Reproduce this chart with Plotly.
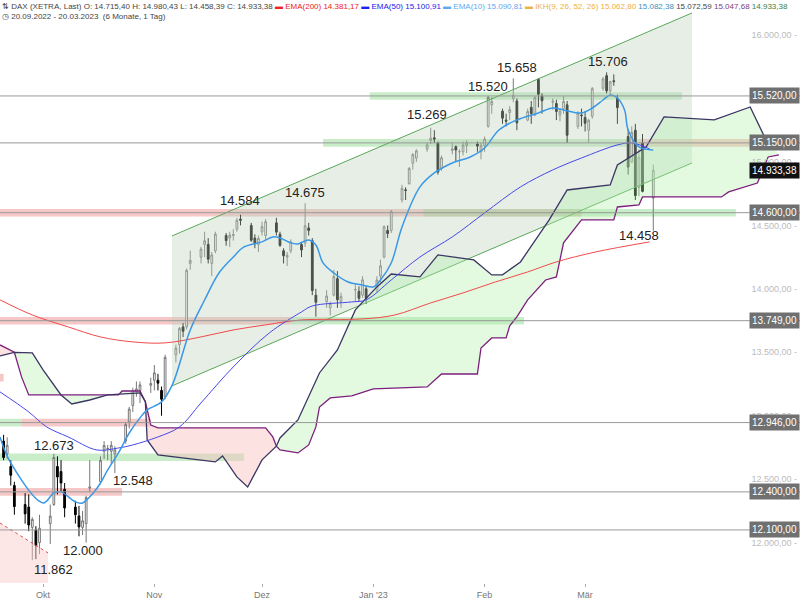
import pandas as pd
import plotly.graph_objects as go

# ---- candles (daily, XETRA) ----
dates = pd.bdate_range("2022-09-20", "2023-03-20")
dates = dates[dates != pd.Timestamp("2022-12-26")]

opens = [12800, 12700, 12600, 12450, 12300, 12280, 12120, 12100, 12000,
         12150, 12300, 12600, 12560, 12420, 12280, 12210, 12120, 12150, 12430,
         12480, 12720, 12740, 12720, 12700, 12800, 12950, 13080, 13190, 13200,
         13240, 13280, 13280, 13200, 13150, 13480, 13560, 13700, 13700, 14200,
         14250, 14350, 14350, 14200, 14300, 14420, 14400, 14420, 14470, 14550,
         14500, 14400, 14350, 14450, 14420, 14520, 14430, 14300, 14250, 14300,
         14350, 14360, 14480, 14380, 13950, 13900, 13850, 13950, 14080, 13900,
         13990, 13980, 13950, 14000, 13990, 14100, 14250, 14460, 14460, 14700,
         14780, 14830, 14990, 15030, 15100, 15170, 15190, 15150, 14950, 15090,
         15120, 15080, 15080, 15130, 15140, 15080, 15130, 15280, 15450, 15400,
         15330, 15390, 15500, 15480, 15330, 15430, 15370, 15650, 15520, 15470,
         15460, 15370, 15420, 15450, 15280, 15370, 15350, 15250, 15360, 15580,
         15680, 15560, 15640, 15500, 15200, 15000, 15250, 14800, 15150, 14715]
highs = [12850, 12830, 12650, 12480, 12390, 12380, 12200, 12130, 12220,
         12300, 12700, 12680, 12650, 12470, 12330, 12290, 12250, 12370, 12650,
         12680, 12800, 12770, 12800, 12760, 12950, 13070, 13220, 13270, 13270,
         13300, 13400, 13330, 13230, 13480, 13560, 13700, 13730, 14160, 14300,
         14330, 14450, 14400, 14290, 14450, 14440, 14450, 14470, 14560, 14584,
         14520, 14430, 14420, 14530, 14550, 14560, 14450, 14320, 14290, 14390,
         14370, 14675, 14520, 14400, 14000, 13990, 13900, 14150, 14140, 13970,
         14040, 14020, 14100, 14020, 14100, 14230, 14500, 14500, 14620, 14820,
         14800, 14960, 15070, 15100, 15150, 15269, 15250, 15160, 15050, 15150,
         15130, 15100, 15160, 15170, 15160, 15150, 15200, 15520, 15510, 15420,
         15380, 15440, 15658, 15500, 15420, 15480, 15520, 15660, 15540, 15500,
         15490, 15420, 15520, 15480, 15400, 15420, 15400, 15340, 15590, 15670,
         15706, 15640, 15690, 15530, 15260, 15280, 15300, 15100, 15220, 14980]
lows = [12650, 12660, 12450, 12220, 12150, 12090, 11862, 11870, 11910,
        11990, 12290, 12380, 12400, 12200, 12150, 12050, 12060, 12000, 12400,
        12460, 12660, 12650, 12620, 12548, 12780, 12900, 13030, 13150, 13100,
        13180, 13200, 13200, 13000, 13130, 13420, 13490, 13620, 13680, 14150,
        14200, 14250, 14200, 14100, 14280, 14340, 14330, 14380, 14450, 14500,
        14370, 14320, 14290, 14420, 14380, 14420, 14330, 14200, 14180, 14280,
        14250, 14330, 14420, 13950, 13780, 13850, 13790, 13940, 13850, 13850,
        13900, 13900, 13930, 13880, 13970, 14050, 14240, 14400, 14440, 14680,
        14700, 14820, 14940, 15000, 15080, 15140, 15150, 14900, 14930, 15060,
        15000, 14960, 15050, 15070, 15080, 15020, 15080, 15270, 15380, 15300,
        15280, 15330, 15470, 15250, 15320, 15300, 15360, 15430, 15380, 15410,
        15330, 15320, 15380, 15150, 15260, 15280, 15240, 15150, 15340, 15560,
        15540, 15520, 15600, 15300, 14900, 14990, 14700, 14730, 14760, 14458]
closes = [12671, 12767, 12531, 12284, 12227, 12139, 12183, 11976, 12114,
          12209, 12671, 12517, 12470, 12273, 12220, 12124, 12172, 12355, 12438,
          12649, 12765, 12742, 12767, 12731, 12931, 13052, 13196, 13211, 13243,
          13254, 13338, 13257, 13130, 13460, 13533, 13688, 13666, 14146, 14224,
          14313, 14379, 14234, 14267, 14431, 14380, 14423, 14428, 14540, 14541,
          14383, 14355, 14397, 14490, 14529, 14447, 14343, 14261, 14264, 14371,
          14306, 14497, 14460, 13986, 13894, 13943, 13885, 14098, 13914, 13941,
          13995, 13926, 14071, 13924, 14069, 14181, 14490, 14436, 14610, 14792,
          14775, 14948, 15058, 15087, 15134, 15187, 15181, 14920, 15033, 15103,
          15094, 15081, 15132, 15150, 15126, 15128, 15180, 15509, 15476, 15345,
          15321, 15412, 15524, 15308, 15398, 15381, 15507, 15534, 15482, 15478,
          15398, 15400, 15476, 15210, 15382, 15365, 15305, 15328, 15578, 15654,
          15560, 15632, 15633, 15428, 14959, 15233, 14735, 15037, 14768, 14933]

# ---- indicators ----
ema200_dates = ["2022-09-19", "2022-09-28", "2022-10-08", "2022-10-17", "2022-10-26", "2022-11-04",
                "2022-11-14", "2022-11-23", "2022-12-02", "2022-12-12", "2022-12-29", "2023-01-07",
                "2023-01-17", "2023-01-26", "2023-02-04", "2023-02-13", "2023-02-21", "2023-03-04",
                "2023-03-19"]
ema200 = [13913, 13794, 13700, 13621, 13582, 13574, 13621, 13676, 13716, 13755, 13763, 13794,
          13889, 13968, 14054, 14133, 14212, 14291, 14370]

ema50_dates = ["2022-09-19", "2022-09-27", "2022-10-02", "2022-10-08", "2022-10-16", "2022-10-22",
               "2022-10-26", "2022-11-02", "2022-11-08", "2022-11-14", "2022-11-23", "2022-12-03",
               "2022-12-12", "2022-12-15", "2022-12-26", "2022-12-30", "2023-01-06", "2023-01-14",
               "2023-01-23", "2023-02-01", "2023-02-11", "2023-02-20", "2023-02-28", "2023-03-10",
               "2023-03-14", "2023-03-19"]
ema50 = [13188, 13030, 12912, 12833, 12730, 12746, 12770, 12833, 12912, 13101, 13385, 13652,
         13818, 13865, 13897, 13913, 14070, 14251, 14409, 14598, 14803, 14937, 15031, 15134,
         15150, 15102]

ema10_dates = ["2022-09-19", "2022-09-22", "2022-10-01", "2022-10-04", "2022-10-06", "2022-10-10",
               "2022-10-12", "2022-10-15", "2022-10-17", "2022-10-19", "2022-10-22", "2022-10-25",
               "2022-10-28", "2022-10-30", "2022-11-03", "2022-11-06", "2022-11-11", "2022-11-15",
               "2022-11-19", "2022-11-23", "2022-11-26", "2022-12-01", "2022-12-04", "2022-12-06",
               "2022-12-09", "2022-12-11", "2022-12-14", "2022-12-16", "2022-12-18", "2022-12-21",
               "2022-12-25", "2022-12-29", "2023-01-01", "2023-01-03", "2023-01-06", "2023-01-09",
               "2023-01-14", "2023-01-18", "2023-01-23", "2023-01-28", "2023-02-01", "2023-02-05",
               "2023-02-10", "2023-02-16", "2023-02-20", "2023-02-23", "2023-02-28", "2023-03-03",
               "2023-03-06", "2023-03-08", "2023-03-10", "2023-03-12", "2023-03-13", "2023-03-16",
               "2023-03-20"]
ema10 = [12833, 12628, 12313, 12392, 12400, 12321, 12313, 12392, 12470, 12573, 12707, 12864,
         12983, 13046, 13109, 13243, 13676, 13912, 14125, 14251, 14330, 14370, 14409, 14401,
         14362, 14354, 14385, 14346, 14204, 14125, 14054, 14031, 14015, 14070, 14204, 14488,
         14803, 14913, 14992, 15039, 15110, 15252, 15331, 15386, 15425, 15410, 15386, 15425,
         15488, 15528, 15504, 15410, 15252, 15118, 15094]

span_a_dates = ["2022-09-19", "2022-09-23", "2022-09-28", "2022-10-01", "2022-10-06", "2022-10-09",
                "2022-10-14", "2022-10-19", "2022-10-28", "2022-10-29 12:00", "2022-10-30",
                "2022-11-02", "2022-11-18", "2022-11-20", "2022-11-24", "2022-11-27", "2022-12-01",
                "2022-12-05", "2022-12-06", "2022-12-11", "2022-12-17", "2022-12-22", "2022-12-27",
                "2023-01-02", "2023-01-06", "2023-01-14", "2023-01-19", "2023-01-29", "2023-02-03",
                "2023-02-06", "2023-02-11", "2023-02-19", "2023-02-24", "2023-03-08", "2023-03-10",
                "2023-03-18", "2023-03-23", "2023-04-06", "2023-04-16", "2023-04-20"]
span_a = [13471, 13500, 13495, 13361, 13164, 13093, 13124, 13164, 13180, 13110, 12809,
          12691, 12636, 12683, 12518, 12439, 12652, 12760, 12825, 12967, 13337, 13518, 13834,
          14015, 14117, 14094, 14267, 14228, 14110, 14110, 14212, 14543, 14779, 14819, 14976,
          15118, 15355, 15331, 15433, 15197]

span_b_dates = ["2022-09-19", "2022-09-23", "2022-09-25", "2022-09-27", "2022-10-22", "2022-10-23",
                "2022-10-28", "2022-10-29 12:00", "2022-10-31", "2022-11-02", "2022-12-02",
                "2022-12-04", "2022-12-05", "2022-12-06", "2022-12-11", "2022-12-14", "2022-12-16",
                "2022-12-17", "2022-12-20", "2022-12-26", "2023-01-01", "2023-01-16", "2023-01-20",
                "2023-01-30", "2023-01-31", "2023-02-03", "2023-02-07", "2023-02-08", "2023-02-10",
                "2023-02-13", "2023-02-18", "2023-02-21", "2023-02-23", "2023-02-28", "2023-03-09",
                "2023-03-10", "2023-03-16", "2023-03-17", "2023-04-08", "2023-04-10", "2023-04-18",
                "2023-04-21", "2023-04-24"]
span_b = [13558, 13500, 13306, 13164, 13164, 13195, 13195, 13110, 12927, 12904, 12904,
          12833, 12760, 12730, 12707, 12770, 12912, 13069, 13140, 13156, 13211, 13227, 13329,
          13329, 13534, 13613, 13613, 13708, 13779, 13913, 14070, 14094, 14362, 14543, 14543,
          14645, 14661, 14724, 14724, 14764, 14834, 15039, 15055]

# cloud segments: (start, end, bullish?)
cloud_segments = [("2022-09-19", "2022-09-23", False), ("2022-09-23", "2022-10-29 12:00", True),
                  ("2022-10-29 12:00", "2022-12-05", False), ("2022-12-05", "2023-04-24", True)]

# support / resistance levels
levels = [15520, 15150, 14600, 13749, 12946, 12400, 12100]
last_price = 14933.38

# zones: (price, from, to, kind)
zones = [(15520, "2022-12-31", "2023-03-28", "g"),
         (15150, "2022-12-18", "2023-03-16", "g"), (15150, "2023-03-16", "2023-04-17", "r"),
         (14600, "2022-09-19", "2023-02-28", "r"), (14600, "2023-01-15", "2023-04-12", "g"),
         (13749, "2022-09-19", "2022-12-09", "r"), (13749, "2022-12-09", "2023-02-12", "g"),
         (13300, "2022-09-19", "2022-09-20", "r"),
         (12946, "2022-09-19", "2022-09-25", "g"), (12946, "2022-09-25", "2022-10-31", "r"),
         (12673, "2022-09-19", "2022-11-26", "g"),
         (12400, "2022-09-19", "2022-10-23", "r")]

# trend channel corners
channel_x = ["2022-11-05 22:00", "2023-03-30 19:00", "2023-03-30 19:00", "2022-11-05 22:00"]
channel_y = [14417, 16174, 14992, 13235]

# older falling channel (bottom left)
old_x = ["2022-09-19", "2022-10-02 09:00"]
old_y = [12155, 11919]

# labelled extremes
mark_x = ["2023-03-07 10:00", "2023-02-10", "2023-02-02", "2023-01-16", "2022-12-13",
          "2022-11-25", "2023-03-16", "2022-10-04", "2022-10-26", "2022-10-12", "2022-10-04"]
mark_y = [15788, 15741, 15591, 15370, 14756, 14693, 14417, 12762, 12486, 11942, 11785]
mark_text = ["15.706", "15.658", "15.520", "15.269", "14.675", "14.584", "14.458",
             "12.673", "12.548", "12.000", "11.862"]

month_ticks = ["2022-10-01", "2022-11-01", "2022-12-01", "2023-01-01", "2023-02-01", "2023-03-01"]
month_text = ["Okt", "Nov", "Dez", "Jan '23", "Feb", "Mär"]

X0, X1 = "2022-09-19", "2023-04-29 21:00"
Y0, Y1 = 11682, 16276


def de_num(v):
    return f"{v:,.2f}".replace(",", "X").replace(".", ",").replace("X", ".")


fig = go.Figure()

# channel shading and lines
fig.add_trace(go.Scatter(x=channel_x + channel_x[:1], y=channel_y + channel_y[:1], mode="lines",
                         fill="toself", fillcolor="rgba(190,210,190,0.38)", line=dict(width=0),
                         hoverinfo="skip", showlegend=False))
fig.add_trace(go.Scatter(x=channel_x[:2], y=channel_y[:2], mode="lines",
                         line=dict(color="#5aa85a", width=1), showlegend=False))
fig.add_trace(go.Scatter(x=channel_x[3:1:-1], y=channel_y[3:1:-1], mode="lines",
                         line=dict(color="#5aa85a", width=1), showlegend=False))

# old channel bottom left
fig.add_trace(go.Scatter(x=[old_x[0], old_x[1], old_x[1], old_x[0]], y=[old_y[0], old_y[1], Y0, Y0],
                         mode="lines", fill="toself", fillcolor="rgba(250,200,200,0.45)",
                         line=dict(width=0), showlegend=False))
fig.add_trace(go.Scatter(x=old_x, y=old_y, mode="lines",
                         line=dict(color="#e05050", width=1, dash="dot"), showlegend=False))

# ichimoku cloud
sa = pd.Series(span_a, index=pd.to_datetime(span_a_dates, format="ISO8601"))
sb = pd.Series(span_b, index=pd.to_datetime(span_b_dates, format="ISO8601"))
for s0, s1, bull in cloud_segments:
    s0, s1 = pd.Timestamp(s0), pd.Timestamp(s1)
    a = sa[(sa.index >= s0) & (sa.index <= s1)]
    b = sb[(sb.index >= s0) & (sb.index <= s1)]
    fig.add_trace(go.Scatter(x=list(a.index) + list(b.index[::-1]),
                             y=list(a.values) + list(b.values[::-1]), mode="lines", fill="toself",
                             fillcolor="rgba(175,240,170,0.35)" if bull else "rgba(250,190,190,0.45)",
                             line=dict(width=0), hoverinfo="skip", showlegend=False))
fig.add_trace(go.Scatter(x=span_b_dates, y=span_b, mode="lines",
                         line=dict(color="#7d1f7d", width=1.3), showlegend=False))
fig.add_trace(go.Scatter(x=span_a_dates, y=span_a, mode="lines",
                         line=dict(color="#3b3563", width=1.3), showlegend=False))

# EMAs
fig.add_trace(go.Scatter(x=ema200_dates, y=ema200, mode="lines", line=dict(color="#f04a4a", width=1, shape="spline"), showlegend=False))
fig.add_trace(go.Scatter(x=ema50_dates, y=ema50, mode="lines", line=dict(color="#4848e8", width=1, shape="spline"), showlegend=False))
fig.add_trace(go.Scatter(x=ema10_dates, y=ema10, mode="lines", line=dict(color="#3a98e6", width=1.5, shape="spline"), showlegend=False))

fig.add_trace(go.Candlestick(x=dates, open=opens, high=highs, low=lows, close=closes,
                             increasing=dict(line=dict(color="#777777", width=1), fillcolor="white"),
                             decreasing=dict(line=dict(color="#000000", width=1), fillcolor="black"),
                             whiskerwidth=0, showlegend=False))

# zones and levels
for p, a, b, k in zones:
    fig.add_shape(type="rect", x0=a, x1=b, y0=p - 30, y1=p + 30, line_width=0, layer="below",
                  fillcolor="rgba(120,210,120,0.4)" if k == "g" else "rgba(235,130,130,0.45)")
for p in levels:
    fig.add_shape(type="line", x0=0, x1=1, xref="paper", y0=p, y1=p,
                  line=dict(color="#999999", width=1))
    fig.add_annotation(x=1, xref="paper", y=p, text=de_num(p), xanchor="right", showarrow=False,
                       bgcolor="#707070", font=dict(color="white", size=10), borderpad=2)
fig.add_annotation(x=1, xref="paper", y=last_price, text=de_num(last_price), xanchor="right",
                   showarrow=False, bgcolor="#111111", font=dict(color="white", size=10), borderpad=2)

for x, y, t in zip(mark_x, mark_y, mark_text):
    fig.add_annotation(x=x, y=y, text=t, showarrow=False, font=dict(size=13, color="#222222"))

fig.add_annotation(
    x=0, y=1, xref="paper", yref="paper", xanchor="left", yanchor="top", align="left", showarrow=False,
    font=dict(size=8, color="#444444"),
    text=("⇅ DAX (XETRA, Last) O: 14.715,40 H: 14.980,43 L: 14.458,39 C: 14.933,38 "
          "<span style='color:#f02020'>▬ EMA(200) 14.381,17</span> "
          "<span style='color:#2020f0'>▬ EMA(50) 15.100,91</span> "
          "<span style='color:#60a8f0'>▬ EMA(10) 15.090,81</span> "
          "<span style='color:#f0b040'>▬ IKH(9, 26, 52, 26) 15.062,80</span> "
          "<span style='color:#3a90c0'>15.082,38</span> 15.072,59 "
          "<span style='color:#804080'>15.047,68</span> <span style='color:#408040'>14.933,38</span>"
          "<br>◷ 20.09.2022 - 20.03.2023  (6 Monate, 1 Tag)"))

fig.update_layout(
    width=800, height=600, margin=dict(l=0, r=0, t=0, b=17),
    paper_bgcolor="white", plot_bgcolor="white", separators=",.",
    font=dict(family="Liberation Sans, Arial, sans-serif"),
    xaxis=dict(range=[X0, X1], showgrid=False, rangeslider=dict(visible=False),
               tickvals=month_ticks, ticktext=month_text, ticks="outside", ticklen=3,
               tickcolor="#aaaaaa", tickfont=dict(size=9, color="#777777"), zeroline=False),
    yaxis=dict(range=[Y0, Y1], side="right", showgrid=False, zeroline=False,
               ticklabelposition="inside", tickformat=",.2f", ticksuffix=" -", dtick=500,
               tickfont=dict(size=9, color="#bbbbbb")),
)

fig.write_html("out.html", config={"displayModeBar": False},
               post_script="document.body.style.margin='0';")
